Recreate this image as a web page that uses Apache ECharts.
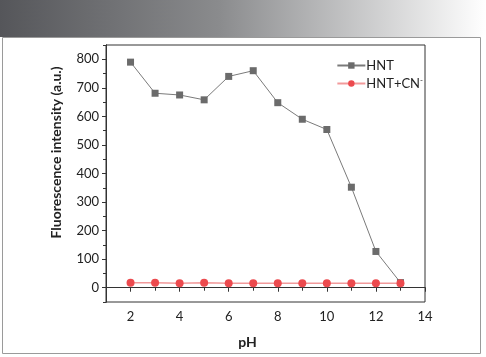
<!DOCTYPE html>
<html><head><meta charset="utf-8">
<script src="https://cdn.jsdelivr.net/npm/echarts@6/dist/echarts.min.js"></script>
<style>html,body{margin:0;padding:0;background:#fff}#c{width:486px;height:357px}</style>
</head><body><div id="c"></div>
<script>
const phValues = [2,3,4,5,6,7,8,9,10,11,12,13];
const hnt = [790,681,675,658,740,760,648,590,554,352,127,18];
const hntCN = [17,17,16,17,16,16,16,16,16,16,16,16];
const xTicks = [2,4,6,8,10,12,14];
const xMinorTicks = [3,5,7,9,11,13];
const yTicks = [0,100,200,300,400,500,600,700,800];
const yMinorTicks = [-50,50,150,250,350,450,550,650,750,850];
const font = 'Lato';
const chart = echarts.init(document.getElementById('c'));
const axisCommon = {
  axisLine:{lineStyle:{color:'#333'}},
  splitLine:{show:false}
};
chart.setOption({
  animation:false,
  graphic:[
    {type:'rect',shape:{x:0,y:0,width:486,height:37},style:{fill:new echarts.graphic.LinearGradient(0,0,1,0,[{offset:0,color:'#55565a'},{offset:0.45,color:'#8a8b8d'},{offset:1,color:'#ffffff'}])}},
    {type:'rect',shape:{x:2.5,y:37.5,width:478,height:316},style:{fill:'none',stroke:'#9a9a9a',lineWidth:1}}
  ],
  grid:{left:106,top:45,width:319,height:257,show:true,borderColor:'#333',borderWidth:1},
  legend:{
    right:58,top:54,orient:'vertical',itemGap:4,itemWidth:28,itemHeight:8,
    data:[{name:'HNT'},{name:'HNT+CN'}],
    formatter:function(n){return n==='HNT+CN'?'{a|HNT+CN}{s|-}':'{a|'+n+'}';},
    textStyle:{fontFamily:font,fontSize:13,color:'#222',padding:[0,0,0,-4],
      rich:{a:{fontFamily:font,fontSize:13,color:'#222'},s:{fontFamily:font,fontSize:8,color:'#222',verticalAlign:'top',padding:[0,0,7,0]}}}
  },
  xAxis:[
    Object.assign({type:'value',min:1,max:14,
      name:'pH',nameLocation:'middle',nameGap:33,
      nameTextStyle:{fontFamily:font,fontWeight:'bold',fontSize:14,color:'#222',padding:[0,36,0,0]},
      axisTick:{show:true,length:4,lineStyle:{color:'#333'},customValues:xTicks},
      axisLabel:{fontFamily:font,fontSize:13,color:'#222',margin:8,customValues:xTicks}},axisCommon),
    Object.assign({type:'value',min:1,max:14,position:'bottom',
      axisTick:{show:true,length:3,lineStyle:{color:'#333'},customValues:xMinorTicks},
      axisLabel:{show:false}},axisCommon)
  ],
  yAxis:[
    Object.assign({type:'value',min:-50,max:850,
      name:'Fluorescence intensity (a.u.)',nameLocation:'middle',nameGap:43,
      nameTextStyle:{fontFamily:font,fontWeight:'bold',fontSize:14,color:'#222',padding:[0,0,0,42]},
      axisTick:{show:true,length:4,lineStyle:{color:'#333'},customValues:yTicks},
      axisLabel:{fontFamily:font,fontSize:13,color:'#222',margin:7,customValues:yTicks}},axisCommon),
    Object.assign({type:'value',min:-50,max:850,position:'left',
      axisTick:{show:true,length:3,lineStyle:{color:'#333'},customValues:yMinorTicks},
      axisLabel:{show:false}},axisCommon)
  ],
  series:[
    {name:'HNT',type:'line',data:phValues.map((x,i)=>[x,hnt[i]]),
      symbol:'rect',symbolSize:7,itemStyle:{color:'#6b6b6b'},lineStyle:{color:'#7a7a7a',width:1},z:2},
    {name:'HNT+CN',type:'line',data:phValues.map((x,i)=>[x,hntCN[i]]),
      symbol:'circle',symbolSize:8,itemStyle:{color:'#ec4a4e'},lineStyle:{color:'#f29a9b',width:1.5},z:3}
  ]
});
</script></body></html>
